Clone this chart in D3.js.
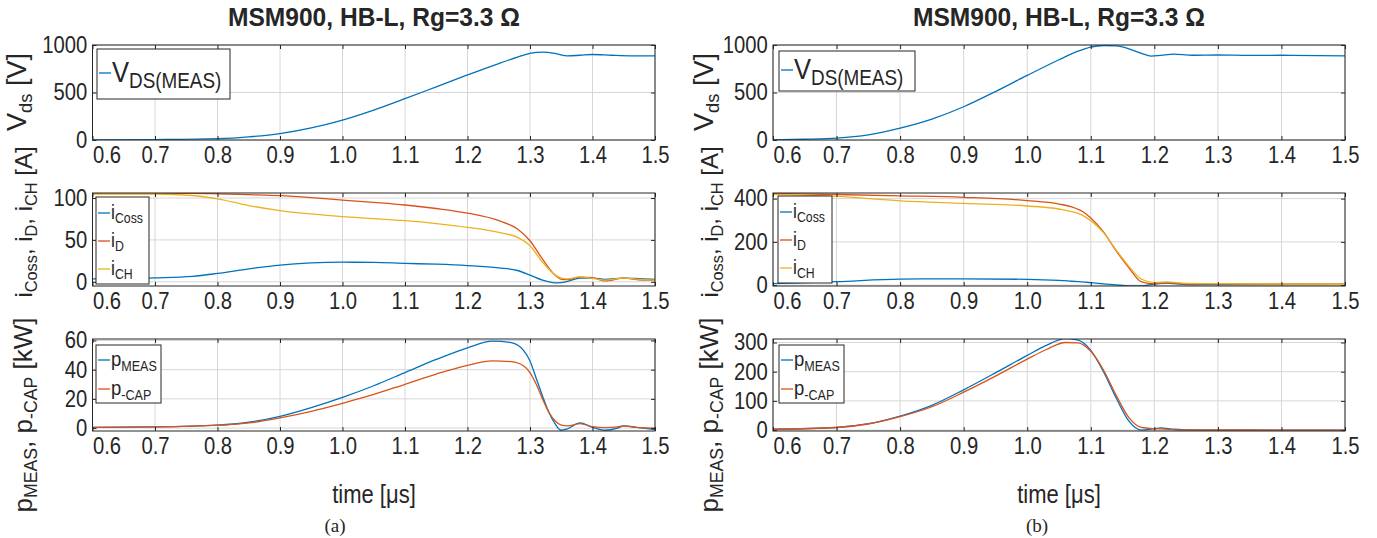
<!DOCTYPE html>
<html><head><meta charset="utf-8">
<script src="https://cdn.jsdelivr.net/npm/d3@7"></script>
<style>
html,body{margin:0;padding:0;background:#fff;}
svg text{font-family:"Liberation Sans",Arial,Helvetica,sans-serif;fill:#262626;}
</style></head>
<body><svg id="c" width="1377" height="538"></svg>
<script>
// ---------- data ----------
const xTicks = [0.6,0.7,0.8,0.9,1.0,1.1,1.2,1.3,1.4,1.5];
const titleText = "MSM900, HB-L, Rg=3.3 Ω";
const captions = ["(a)","(b)"];

// (a) V_DS
const tVa = [0.6,0.7,0.8,0.85,0.9,0.95,1.0,1.05,1.1,1.15,1.2,1.25,1.28,1.3,1.32,1.34,1.36,1.38,1.4,1.43,1.46,1.5];
const vdsA = [0,4,14,33,68,128,210,315,435,560,685,805,872,912,925,912,885,892,900,892,886,886];
// (b) V_DS
const tVb = [0.6,0.65,0.7,0.75,0.8,0.85,0.9,0.95,1.0,1.05,1.08,1.1,1.12,1.14,1.16,1.18,1.195,1.21,1.23,1.26,1.3,1.35,1.4,1.5];
const vdsB = [2,8,20,55,125,220,350,510,680,845,935,978,995,990,960,912,882,890,904,892,895,890,892,886];

// (a) currents
const tIa = [0.6,0.7,0.76,0.8,0.85,0.9,0.95,1.0,1.05,1.1,1.15,1.2,1.25,1.28,1.3,1.32,1.34,1.35,1.36,1.38,1.4,1.42,1.45,1.48,1.5];
const iCossA = [3.6,4.8,6.5,10,15.5,20,22.5,23.4,23.2,22,21,19.4,16.7,13.5,8,2,-1.2,-1,0.5,4.5,4.5,3,4.5,3.5,3];
const iDA    = [105.5,105.5,105.5,105,104,102.8,100.5,97.6,94.8,91.7,87.5,82,73,63,49,27,8,3,2.5,5.5,5,1,4.5,2,2.4];
const iCHA   = [104.8,104.8,103,99,91,85,81,77.8,75.5,73,69.5,65,59,53,43,23.4,8.3,4.4,3.5,6,4,2,4.4,2.5,2];
// (b) currents
const tIb = [0.6,0.7,0.8,0.9,1.0,1.05,1.07,1.09,1.1,1.12,1.14,1.16,1.18,1.2,1.22,1.25,1.3,1.4,1.5];
const iCossB = [7,16,28,29,27,22,18,14,12,6,1,-3,-3,5,9,3,3,3,3];
const iDB    = [424,419,413,406,391,375,362,335,310,246,158,80,15,6,12,5,6,4,4];
const iCHB   = [420,410,390,378,366,352,340,318,298,243,162,87,27,12,15,8,7,5,4];

// (a) power
const tPa = [0.6,0.7,0.8,0.85,0.9,0.95,1.0,1.05,1.1,1.15,1.2,1.24,1.27,1.29,1.3,1.31,1.32,1.33,1.34,1.35,1.36,1.38,1.4,1.42,1.44,1.45,1.47,1.5];
const pMeasA = [0.5,0.8,2,4,8,14,21,29,38,47,55,59.5,58.5,53,46,34,22,11,3,-1.5,-0.5,3.5,0.5,-1.5,0,1.5,0.5,-1];
const pCapA  = [0.5,0.8,2,3.5,7,11.5,17,23,30,37,43,46,45.5,42.5,38,30,20,11,5,2,1.5,3,1,0.3,0.8,1.5,0.5,0];
// (b) power
const tPb = [0.6,0.7,0.75,0.8,0.85,0.9,0.95,1.0,1.03,1.06,1.08,1.1,1.12,1.14,1.16,1.18,1.2,1.21,1.23,1.25,1.3,1.4,1.5];
const pMeasB = [3,9,22,48,85,138,196,256,290,313,308,273,200,110,31,0,5,8,3,1,0,0,0];
const pCapB  = [3,9,21,46,80,130,185,243,276,300,299,270,206,119,43,9,5,4,2,1,1,0,0];

const yTicksV = [0,500,1000];
const yTicksIa = [0,50,100];
const yTicksIb = [0,200,400];
const yTicksPa = [0,20,40,60];
const yTicksPb = [0,100,200,300];

// ---------- style / layout ----------
const C_BLUE="#0072BD", C_RED="#D95319", C_YEL="#EDB120";
const cols = [{x0:92.5,x1:655,cx:374,capX:335},{x0:773,x1:1345,cx:1059,capX:1037}];
const rows = [{y0:45,y1:140},{y0:193,y1:286},{y0:339,y1:431}];
const TICK_FS = 23, SQX = 0.88;

const svg = d3.select("#c");

function rich(sel, parts, size, subR){
  subR = subR || 0.68;
  let prevSub=false;
  parts.forEach(([t,k])=>{
    const ts = sel.append("tspan").text(t);
    if(k==="s"){ ts.attr("font-size",size*subR); if(!prevSub) ts.attr("dy",size*0.22); prevSub=true; }
    else { ts.attr("font-size",size); if(prevSub) ts.attr("dy",-size*0.22); prevSub=false; }
  });
}

const legIa = [{col:C_BLUE,parts:[["i","n"],["Coss","s"]]},{col:C_RED,parts:[["i","n"],["D","s"]]},{col:C_YEL,parts:[["i","n"],["CH","s"]]}];
const legP = [{col:C_BLUE,parts:[["p","n"],["MEAS","s"]]},{col:C_RED,parts:[["p","n"],["-CAP","s"]]}];
const legV = [{col:C_BLUE,parts:[["V","n"],["DS(MEAS)","s"]]}];
const labV = [["V","n"],["ds","s"],[" [V]","n"]];
const labI = [["i","n"],["Coss","s"],[", i","n"],["D","s"],[", i","n"],["CH","s"],[" [A]","n"]];
const labP = [["p","n"],["MEAS","s"],[", p","n"],["-CAP","s"],[" [kW]","n"]];

const panels = [
 {c:0,r:0,dom:[0,1000],ticks:yTicksV,series:[{t:tVa,v:vdsA,col:C_BLUE}],
  legend:{x:97,y:49,w:133,h:50,fs:29,sub:0.74,items:legV,rowH:0,first:24},
  ylab:{parts:labV,x:20,y:92,fs:27}},
 {c:0,r:1,dom:[-5,106],ticks:yTicksIa,series:[{t:tIa,v:iCossA,col:C_BLUE},{t:tIa,v:iDA,col:C_RED},{t:tIa,v:iCHA,col:C_YEL}],
  legend:{x:96,y:197,w:53,h:87,fs:20,sub:0.7,items:legIa,rowH:28,first:16},
  ylab:{parts:labI,x:26,y:222,fs:24}},
 {c:0,r:2,dom:[-2,61],ticks:yTicksPa,series:[{t:tPa,v:pMeasA,col:C_BLUE},{t:tPa,v:pCapA,col:C_RED}],
  legend:{x:96,y:345,w:65,h:58,fs:21,sub:0.68,items:legP,rowH:29,first:15},
  ylab:{parts:labP,x:26,y:415,fs:26}},
 {c:1,r:0,dom:[0,1000],ticks:yTicksV,series:[{t:tVb,v:vdsB,col:C_BLUE}],
  legend:{x:779,y:51,w:136,h:40,fs:29,sub:0.74,items:legV,rowH:0,first:19},
  ylab:{parts:labV,x:707,y:92,fs:27}},
 {c:1,r:1,dom:[-4,426],ticks:yTicksIb,series:[{t:tIb,v:iCossB,col:C_BLUE},{t:tIb,v:iDB,col:C_RED},{t:tIb,v:iCHB,col:C_YEL}],
  legend:{x:778,y:196,w:54,h:87,fs:20,sub:0.7,items:legIa,rowH:28,first:16},
  ylab:{parts:labI,x:712,y:222,fs:24}},
 {c:1,r:2,dom:[-3,312],ticks:yTicksPb,series:[{t:tPb,v:pMeasB,col:C_BLUE},{t:tPb,v:pCapB,col:C_RED}],
  legend:{x:779,y:345,w:65,h:58,fs:21,sub:0.68,items:legP,rowH:29,first:15},
  ylab:{parts:labP,x:712,y:415,fs:26}}
];

panels.forEach(p=>{
  const col = cols[p.c], row = rows[p.r];
  const x = d3.scaleLinear().domain([0.6,1.5]).range([col.x0,col.x1]);
  const y = d3.scaleLinear().domain(p.dom).range([row.y1,row.y0]);
  const g = svg.append("g");
  const clipId = "clip"+p.c+p.r;
  svg.append("clipPath").attr("id",clipId).append("rect")
     .attr("x",col.x0).attr("y",row.y0).attr("width",col.x1-col.x0).attr("height",row.y1-row.y0);
  // grid
  g.append("g").selectAll("line").data(xTicks).join("line")
    .attr("x1",d=>x(d)).attr("x2",d=>x(d)).attr("y1",row.y0).attr("y2",row.y1)
    .attr("stroke","#d6d6d6").attr("stroke-width",1);
  g.append("g").selectAll("line").data(p.ticks).join("line")
    .attr("x1",col.x0).attr("x2",col.x1).attr("y1",d=>y(d)).attr("y2",d=>y(d))
    .attr("stroke","#d6d6d6").attr("stroke-width",1);
  // series
  const line = d3.line().x(d=>x(d[0])).y(d=>y(d[1])).curve(d3.curveMonotoneX);
  p.series.forEach(s=>{
    g.append("path").attr("clip-path",`url(#${clipId})`)
     .datum(s.t.map((t,i)=>[t,s.v[i]]))
     .attr("d",line).attr("fill","none").attr("stroke",s.col).attr("stroke-width",1.3);
  });
  // axes
  const ax = g.append("g").attr("transform",`translate(0,${row.y1})`)
    .call(d3.axisBottom(x).tickValues(xTicks).tickFormat(d3.format(".1f")).tickSizeInner(-4).tickSizeOuter(0).tickPadding(6));
  ax.select(".domain").remove();
  ax.selectAll(".tick line").attr("stroke","#262626");
  ax.selectAll("text").attr("font-size",TICK_FS).attr("fill","#262626")
    .attr("dy","0.75em").attr("transform",`scale(${SQX},1)`)
    .attr("text-anchor",(d,i)=> i===0 ? "start" : "middle");
  g.append("g").attr("transform",`translate(0,${row.y0})`)
    .call(d3.axisTop(x).tickValues(xTicks).tickFormat("").tickSizeInner(-4).tickSizeOuter(0))
    .call(s=>{s.select(".domain").remove(); s.selectAll("line").attr("stroke","#262626");});
  const ay = g.append("g").attr("transform",`translate(${col.x0},0)`)
    .call(d3.axisLeft(y).tickValues(p.ticks).tickFormat(d3.format("d")).tickSizeInner(-4).tickSizeOuter(0).tickPadding(6));
  ay.select(".domain").remove();
  ay.selectAll(".tick line").attr("stroke","#262626");
  ay.selectAll("text").attr("font-size",TICK_FS).attr("fill","#262626").attr("transform",`scale(${SQX},1)`);
  g.append("g").attr("transform",`translate(${col.x1},0)`)
    .call(d3.axisRight(y).tickValues(p.ticks).tickFormat("").tickSizeInner(-4).tickSizeOuter(0))
    .call(s=>{s.select(".domain").remove(); s.selectAll("line").attr("stroke","#262626");});
  // box
  g.append("rect").attr("x",col.x0).attr("y",row.y0).attr("width",col.x1-col.x0).attr("height",row.y1-row.y0)
    .attr("fill","none").attr("stroke","#262626").attr("stroke-width",1);
  // legend
  const L = p.legend;
  const lg = g.append("g");
  lg.append("rect").attr("x",L.x).attr("y",L.y).attr("width",L.w).attr("height",L.h)
    .attr("fill","#fff").attr("stroke","#262626").attr("stroke-width",1);
  L.items.forEach((it,i)=>{
    const yy = L.y + L.first + i*L.rowH;
    lg.append("line").attr("x1",L.x+2).attr("x2",L.x+14).attr("y1",yy).attr("y2",yy)
      .attr("stroke",it.col).attr("stroke-width",1.3);
    const tx = lg.append("text")
      .attr("transform",`translate(${L.x+15},${yy+L.fs*0.3}) scale(${SQX},1)`);
    rich(tx,it.parts,L.fs,L.sub);
  });
  // y label
  const yl = svg.append("text").attr("transform",`translate(${p.ylab.x},${p.ylab.y}) rotate(-90)`)
    .attr("text-anchor","middle").attr("dy","0.35em");
  rich(yl,p.ylab.parts,p.ylab.fs,0.68);
});

cols.forEach((col,i)=>{
  svg.append("text").attr("x",col.cx).attr("y",26).attr("text-anchor","middle")
    .attr("font-size",25).attr("font-weight","bold").attr("fill","#000")
    .attr("textLength",292).attr("lengthAdjust","spacingAndGlyphs").text(titleText);
  svg.append("text").attr("x",col.cx).attr("y",503).attr("text-anchor","middle")
    .attr("font-size",25).attr("transform",`translate(${col.cx*(1-SQX)},0) scale(${SQX},1)`).text("time [μs]");
  svg.append("text").attr("x",col.capX).attr("y",532).attr("text-anchor","middle")
    .attr("font-size",19).attr("fill","#000").style("font-family","Liberation Serif, Times New Roman, serif").text(captions[i]);
});
</script></body></html>
